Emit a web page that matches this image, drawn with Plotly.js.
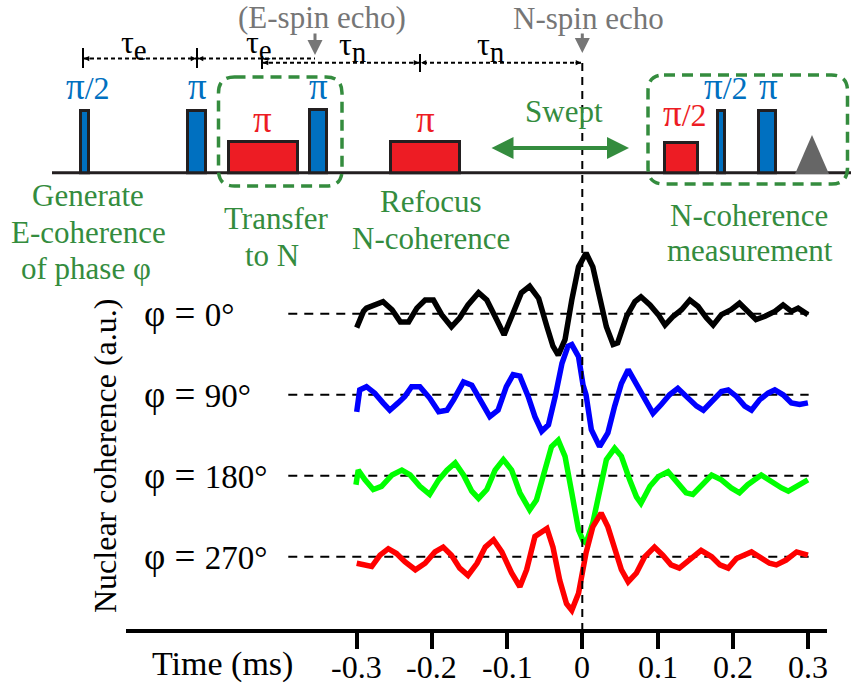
<!DOCTYPE html>
<html><head><meta charset="utf-8">
<script src="https://cdn.plot.ly/plotly-3.0.1.min.js"></script>
<style>html,body{margin:0;padding:0;background:#fff}</style>
</head><body><div id="chart" style="width:851px;height:685px"></div>
<script>
// ---------------- data ----------------
const tBlack=[-0.300,-0.291,-0.287,-0.276,-0.265,-0.253,-0.242,-0.231,-0.220,-0.209,-0.198,-0.187,-0.174,-0.163,-0.152,-0.138,-0.127,-0.114,-0.104,-0.092,-0.081,-0.070,-0.058,-0.047,-0.039,-0.032,-0.023,-0.014,-0.005,0.005,0.014,0.023,0.032,0.041,0.047,0.059,0.070,0.078,0.090,0.101,0.110,0.121,0.132,0.143,0.154,0.165,0.174,0.185,0.198,0.209,0.220,0.231,0.243,0.256,0.267,0.278,0.287,0.300];
const vBlack=[-0.17,0.03,0.07,0.11,0.15,0.05,-0.10,-0.10,0.07,0.17,0.17,-0.01,-0.16,-0.05,0.11,0.26,0.17,-0.07,-0.26,0.01,0.26,0.34,0.19,-0.16,-0.40,-0.51,-0.32,0.17,0.58,0.75,0.58,0.21,-0.16,-0.38,-0.36,-0.03,0.15,0.21,0.11,-0.01,-0.14,-0.03,0.05,0.17,0.09,-0.05,-0.14,-0.01,0.05,0.13,0.03,-0.07,-0.03,0.03,0.11,0.03,0.07,-0.01];

const tBlue=[-0.300,-0.296,-0.287,-0.276,-0.265,-0.256,-0.245,-0.236,-0.227,-0.216,-0.203,-0.191,-0.180,-0.171,-0.158,-0.147,-0.136,-0.123,-0.112,-0.101,-0.092,-0.083,-0.072,-0.063,-0.054,-0.045,-0.036,-0.027,-0.019,-0.014,-0.005,0.001,0.005,0.012,0.023,0.034,0.043,0.052,0.061,0.072,0.083,0.094,0.105,0.116,0.127,0.141,0.152,0.161,0.172,0.185,0.194,0.205,0.216,0.225,0.236,0.247,0.256,0.267,0.278,0.289,0.300];
const vBlue=[-0.21,0.06,0.10,0.02,-0.10,-0.19,-0.10,-0.02,0.10,0.10,-0.04,-0.21,-0.19,-0.06,0.16,0.12,-0.06,-0.27,-0.19,0.10,0.25,0.23,-0.02,-0.27,-0.45,-0.37,-0.02,0.39,0.60,0.62,0.47,0.12,0.00,-0.43,-0.64,-0.47,-0.14,0.14,0.31,0.14,-0.06,-0.23,-0.12,0.00,0.08,-0.04,-0.14,-0.19,-0.08,0.04,0.06,-0.02,-0.14,-0.19,-0.06,0.02,0.06,0.00,-0.10,-0.12,-0.10];

const tGreen=[-0.301,-0.298,-0.289,-0.278,-0.267,-0.253,-0.240,-0.229,-0.216,-0.203,-0.191,-0.180,-0.169,-0.158,-0.147,-0.138,-0.127,-0.116,-0.105,-0.094,-0.083,-0.070,-0.061,-0.050,-0.041,-0.032,-0.023,-0.014,-0.005,0.001,0.005,0.014,0.023,0.032,0.043,0.052,0.063,0.072,0.078,0.090,0.101,0.114,0.127,0.138,0.147,0.158,0.172,0.185,0.198,0.209,0.220,0.238,0.251,0.265,0.274,0.287,0.300];
const vGreen=[-0.11,0.07,-0.05,-0.17,-0.13,0.01,0.07,0.01,-0.13,-0.23,-0.05,0.07,0.16,0.01,-0.19,-0.28,-0.17,0.07,0.20,0.07,-0.21,-0.42,-0.30,0.07,0.36,0.44,0.24,-0.21,-0.67,-0.80,-0.83,-0.58,-0.17,0.20,0.34,0.24,-0.05,-0.26,-0.34,-0.13,-0.01,0.05,-0.09,-0.21,-0.23,-0.13,0.01,-0.05,-0.15,-0.21,-0.11,0.01,-0.07,-0.15,-0.19,-0.11,-0.05];

const tRed=[-0.300,-0.291,-0.280,-0.269,-0.258,-0.247,-0.236,-0.222,-0.209,-0.196,-0.185,-0.174,-0.163,-0.152,-0.140,-0.129,-0.118,-0.107,-0.094,-0.083,-0.074,-0.063,-0.047,-0.039,-0.030,-0.021,-0.014,-0.005,0.001,0.005,0.014,0.025,0.034,0.043,0.052,0.061,0.072,0.083,0.096,0.107,0.118,0.129,0.143,0.158,0.172,0.183,0.194,0.205,0.225,0.236,0.249,0.258,0.271,0.285,0.300];
const vRed=[-0.08,-0.10,-0.12,0.02,0.10,0.04,-0.06,-0.16,-0.08,0.06,0.12,0.02,-0.14,-0.23,-0.08,0.12,0.21,0.06,-0.20,-0.37,-0.16,0.25,0.35,0.12,-0.29,-0.58,-0.66,-0.45,-0.10,0.05,0.37,0.54,0.37,0.12,-0.16,-0.31,-0.20,0.00,0.12,0.02,-0.10,-0.14,-0.04,0.08,0.00,-0.10,-0.14,-0.02,0.06,0.00,-0.08,-0.10,-0.04,0.06,0.02];

const phaseNames=['0°','90°','180°','270°'];
const offsets=[3,2,1,0];
const traceColors=['#000000','#0000ff','#00ff00','#ff0000'];
const tickVals=[-0.3,-0.2,-0.1,0,0.1,0.2,0.3];
const tickText=['-0.3','-0.2','-0.1','0','0.1','0.2','0.3'];

// ---------------- styles ----------------
const FONT='Liberation Serif, Times New Roman, serif';
const BLUE='rgb(0,112,192)', RED='rgb(237,28,36)', GREEN='rgb(52,140,62)', GRAY='rgb(118,118,118)', OUT='#231f20';

const series=[[tBlack,vBlack],[tBlue,vBlue],[tGreen,vGreen],[tRed,vRed]];
const data=series.map((s,i)=>({
  x:s[0], y:s[1].map(v=>v+offsets[i]), type:'scatter', mode:'lines',
  line:{color:traceColors[i],width:5.5}, hoverinfo:'skip', showlegend:false, xaxis:'x', yaxis:'y'
}));
data.push({x:[],y:[],type:'scatter',mode:'markers',xaxis:'x2',yaxis:'y2',showlegend:false,hoverinfo:'skip'});

const shapes=[], annotations=[];
function ann(x,y,text,size,color,extra){annotations.push(Object.assign({xref:'x2',yref:'y2',x:x,y:y,text:text,showarrow:false,font:{family:FONT,size:size,color:color},xanchor:'center',yanchor:'middle'},extra||{}));}
function line2(x0,y0,x1,y1,color,width,dash){shapes.push({type:'line',xref:'x2',yref:'y2',x0:x0,y0:y0,x1:x1,y1:y1,line:{color:color,width:width,dash:dash||'solid'}});}
function rr(x0,y0,x1,y1,r){return `M${x0+r},${y0} L${x1-r},${y0} Q${x1},${y0} ${x1},${y0+r} L${x1},${y1-r} Q${x1},${y1} ${x1-r},${y1} L${x0+r},${y1} Q${x0},${y1} ${x0},${y1-r} L${x0},${y0+r} Q${x0},${y0} ${x0+r},${y0} Z`;}

// dashed baselines and phase labels
offsets.forEach((o,i)=>{
  shapes.push({type:'line',xref:'x',yref:'y',x0:-0.391,x1:0.301,y0:o,y1:o,line:{color:'#000',width:2,dash:'9px,7px'},layer:'below'});
  annotations.push({xref:'x2',yref:'y',x:142,y:o,text:'<span style="font-size:37px">φ = </span>'+phaseNames[i],showarrow:false,xanchor:'left',yanchor:'middle',font:{family:FONT,size:33,color:'#000'}});
});
// x tick labels
tickVals.forEach((v,i)=>{
  annotations.push({xref:'x',yref:'y2',x:v,y:667,text:tickText[i],showarrow:false,xanchor:'center',yanchor:'middle',font:{family:FONT,size:32,color:'#000'}});
});

// ----- pulse sequence diagram (pixel coordinates on hidden axes) -----
const BASE=172.7;
line2(52,BASE,851,BASE,OUT,3);
const pulses=[[79,90,109,BLUE],[186,207,109,BLUE],[227,299,140,RED],[308,328,108,BLUE],[389,461,140,RED],[663,699,141,RED],[716,726,109,BLUE],[757,777,109,BLUE]];
pulses.forEach(p=>shapes.push({type:'rect',xref:'x2',yref:'y2',x0:p[0]+1.5,x1:p[1]-1.5,y0:p[2]+1.5,y1:BASE,fillcolor:p[3],line:{color:OUT,width:3}}));
shapes.push({type:'path',xref:'x2',yref:'y2',path:'M795,174 L812,135 L829,174 Z',fillcolor:'rgb(102,102,102)',line:{width:0}});
// green dashed boxes
shapes.push({type:'path',xref:'x2',yref:'y2',path:rr(218.5,77,342,186,16),line:{color:GREEN,width:3.5,dash:'11px,7px'}});
shapes.push({type:'path',xref:'x2',yref:'y2',path:rr(648,75,847.5,184,16),line:{color:GREEN,width:3.5,dash:'11px,7px'}});
// vertical echo line
shapes.push({type:'line',xref:'x',yref:'y2',x0:0,x1:0,y0:63,y1:630,line:{color:'#000',width:2,dash:'8px,6px'}});
// timing lines
line2(83,58.5,315,58.5,'#000',2,'4px,3px');
line2(262,62.7,582,62.7,'#000',2,'4px,3px');
line2(83,48,83,68,'#000',2); line2(197,48,197,68,'#000',2); line2(262,56,262,69,'#000',2); line2(420,54,420,72,'#000',2);
[[84,58.5,1],[196,58.5,-1],[198,58.5,1],[263,62.7,1],[419,62.7,-1],[421,62.7,1],[581,62.7,-1]].forEach(a=>{
  annotations.push({xref:'x2',yref:'y2',axref:'x2',ayref:'y2',x:a[0],y:a[1],ax:a[0]+7*a[2],ay:a[1],text:'',showarrow:true,arrowhead:2,arrowsize:0.7,arrowwidth:1.5,arrowcolor:'#000',standoff:0});
});
// labels of pulses
const PI2='<span style="font-size:37px">π</span>/2';
ann(88,86,PI2,32,BLUE); ann(197,86,'π',37,BLUE); ann(262,119,'π',37,RED); ann(318,86,'π',37,BLUE);
ann(425,119,'π',37,RED); ann(685,113,PI2,32,RED); ann(726,86,PI2,32,BLUE); ann(768,86,'π',37,BLUE);
// tau labels
const TE='τ<sub><span style="font-size:29px">e</span></sub>', TN='τ<sub><span style="font-size:29px">n</span></sub>';
ann(134,45,TE,32,'#000'); ann(259,45,TE,32,'#000');
ann(353,47,TN,32,'#000'); ann(491,47,TN,32,'#000');
// echo labels and arrows
ann(322,17,'(E-spin echo)',31,GRAY); ann(588,18,'N-spin echo',31,GRAY);
annotations.push({xref:'x2',yref:'y2',axref:'x2',ayref:'y2',x:315,y:55,ax:315,ay:32,text:'',showarrow:true,arrowhead:2,arrowsize:1,arrowwidth:3,arrowcolor:GRAY,standoff:0});
annotations.push({xref:'x2',yref:'y2',axref:'x2',ayref:'y2',x:582.3,y:53,ax:582.3,ay:32,text:'',showarrow:true,arrowhead:2,arrowsize:1,arrowwidth:3,arrowcolor:GRAY,standoff:0});
// swept
ann(564,111,'Swept',31,GREEN);
annotations.push({xref:'x2',yref:'y2',axref:'x2',ayref:'y2',x:629,y:148,ax:490,ay:148,text:'',showarrow:true,arrowhead:2,arrowside:'end+start',arrowsize:1.1,arrowwidth:4,arrowcolor:GREEN,standoff:0,startstandoff:0});
// green descriptions
ann(88,195,'Generate',31,GREEN); ann(88,232,'E-coherence',31,GREEN); ann(86,268,'of phase φ',31,GREEN);
ann(276,218,'Transfer',31,GREEN); ann(272,255,'to N',31,GREEN);
ann(431,201,'Refocus',31,GREEN); ann(431,238,'N-coherence',31,GREEN);
ann(749,215,'N-coherence',31,GREEN); ann(750,250,'measurement',31,GREEN);
// axis titles
ann(105,456,'Nuclear coherence (a.u.)',32,'#000',{textangle:-90});
ann(222,664,'Time (ms)',34,'#000');

const layout={
  width:851,height:685,margin:{l:0,r:0,t:0,b:0},
  paper_bgcolor:'#fff',plot_bgcolor:'rgba(0,0,0,0)',showlegend:false,
  font:{family:FONT,color:'#000'},
  xaxis:{domain:[126/851,827/851],range:[-0.6068,0.3254],anchor:'y',showline:true,linewidth:4,linecolor:'#000',
    ticks:'outside',ticklen:16,tickwidth:4,tickcolor:'#000',tickvals:tickVals,showticklabels:false,
    showgrid:false,zeroline:false,fixedrange:true},
  yaxis:{domain:[0.08248,1],range:[-0.8852,6.874],visible:false,fixedrange:true},
  xaxis2:{domain:[0,1],range:[0,851],anchor:'y2',visible:false,fixedrange:true},
  yaxis2:{domain:[0,1],range:[685,0],anchor:'x2',visible:false,fixedrange:true},
  shapes:shapes,annotations:annotations
};
Plotly.newPlot('chart',data,layout,{staticPlot:true,displayModeBar:false});
</script></body></html>
